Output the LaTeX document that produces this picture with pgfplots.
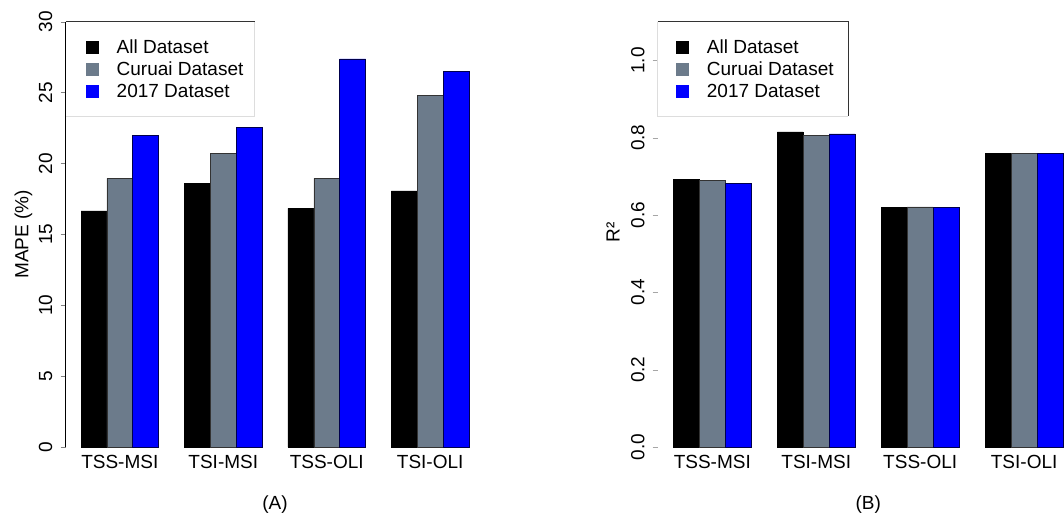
\documentclass[border=0pt]{standalone}
\usepackage{pgfplots}
\pgfplotsset{compat=1.18}
\usepackage{fontspec}
\setmainfont{Liberation Sans}
\definecolor{slate}{HTML}{6C7B8B}
\definecolor{lightbox}{HTML}{DDDDDD}
\pgfplotsset{
  barstyle/.style={
    scale only axis,
    height=425.3pt,
    ymin=0,
    clip=false,
    font=\fontsize{19}{23}\selectfont,
    /pgf/number format/assume math mode=true,
    ybar, bar width=1,
    xmin=0.4, xmax=16.6,
    axis x line=bottom, axis y line=left,
    axis line style={-},
    x axis line style={draw=none},
    xtick={2.5,6.5,10.5,14.5},
    xticklabels={TSS-MSI,TSI-MSI,TSS-OLI,TSI-OLI},
    xtick style={draw=none},
    xticklabel style={anchor=north, inner sep=0pt},
    tick align=outside,
    major tick length=5pt,
    yticklabel style={rotate=90, anchor=south, inner sep=0pt},
    legend cell align=left,
    legend image code/.code={\fill[##1,draw=none] (0pt,-6.5pt) rectangle (13pt,6.5pt);},
    legend style={at={(axis description cs:0,1)}, anchor=north west,
      xshift=20pt, yshift=-18pt, draw=none, fill=none, inner sep=0pt,
      row sep=7pt, nodes={inner sep=0pt},
      /tikz/every odd column/.append style={column sep=18pt}},
  },
}
\begin{document}
\begin{tikzpicture}
\useasboundingbox (0,0) rectangle (1064pt,515pt);
\clip (0,0) rectangle (1064pt,515pt);
% ---------- Panel A ----------
\begin{axis}[barstyle,
  at={(65.5pt,68pt)}, anchor=south west, width=419pt,
  ymax=30, ytick={0,5,10,15,20,25,30},
  yticklabel shift=8pt,
  xticklabel shift=3pt,
  ylabel={MAPE (\%)},
  ylabel style={at={(axis description cs:-0.1002,0.5)}, rotate=0, anchor=center},
  xlabel={(A)},
  xlabel style={at={(axis description cs:0.5,-0.1364)}, anchor=center},
]
\addplot[fill=black, draw=black, line width=0.6pt, bar shift=0pt] coordinates {(1.5,16.66) (5.5,18.6) (9.5,16.83) (13.5,18.07)};
\addplot[fill=slate, draw=black!80, line width=0.6pt, bar shift=0pt] coordinates {(2.5,18.95) (6.5,20.7) (10.5,18.95) (14.5,24.82)};
\addplot[fill=blue, draw=black!70!blue, line width=0.6pt, bar shift=0pt] coordinates {(3.5,22.0) (7.5,22.57) (11.5,27.38) (15.5,26.5)};
\legend{All Dataset, Curuai Dataset, 2017 Dataset}
\draw[lightbox, line width=0.8pt] (axis description cs:0.452,1) -- (axis description cs:0.452,0.778) -- (axis description cs:0,0.778);
\draw[black!80, line width=0.8pt] (axis description cs:0,1) -- (axis description cs:0.452,1);
\end{axis}
% ---------- Panel B ----------
\begin{axis}[barstyle,
  at={(657.7pt,68pt)}, anchor=south west, width=421pt,
  ymax=1.1, ytick={0,0.2,0.4,0.6,0.8,1.0},
  yticklabel={\pgfmathprintnumber[fixed,fixed zerofill,precision=1]{\tick}},
  y axis line style={draw=none},
  ytick style={black!35},
  yticklabel shift=8pt,
  xticklabel shift=3pt,
  ylabel={R²},
  ylabel style={at={(axis description cs:-0.106,0.504)}, rotate=0, anchor=center},
  xlabel={(B)},
  xlabel style={at={(axis description cs:0.5,-0.1364)}, anchor=center},
  legend style={xshift=-2pt},
]
\addplot[fill=black, draw=black, line width=0.6pt, bar shift=0pt] coordinates {(1.5,0.692) (5.5,0.815) (9.5,0.619) (13.5,0.760)};
\addplot[fill=slate, draw=black!80, line width=0.6pt, bar shift=0pt] coordinates {(2.5,0.689) (6.5,0.806) (10.5,0.621) (14.5,0.760)};
\addplot[fill=blue, draw=black!70!blue, line width=0.6pt, bar shift=0pt] coordinates {(3.5,0.682) (7.5,0.810) (11.5,0.619) (15.5,0.760)};
\legend{All Dataset, Curuai Dataset, 2017 Dataset}
\draw[lightbox, line width=0.8pt] (axis description cs:0,1) -- (axis description cs:0,0.778) -- (axis description cs:0.452,0.778);
\draw[black!80, line width=0.8pt] (axis description cs:0,1) -- (axis description cs:0.452,1) -- (axis description cs:0.452,0.778);
\end{axis}
\end{tikzpicture}
\end{document}
